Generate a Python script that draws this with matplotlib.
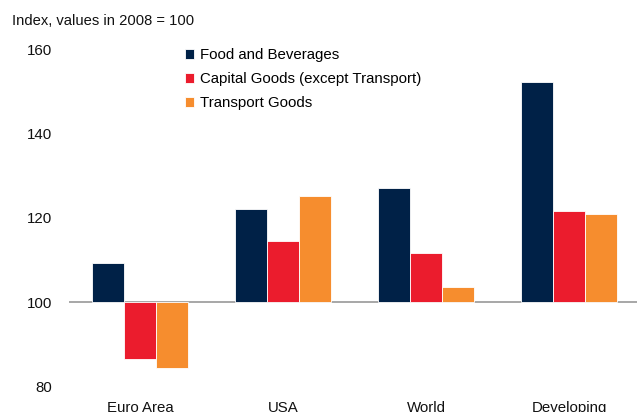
import numpy as np
import matplotlib
matplotlib.use("Agg")
import matplotlib.pyplot as plt

plt.rcParams['font.family'] = ['Liberation Sans', 'DejaVu Sans']

regions = ['Euro Area', 'USA', 'World', 'Developing']
food = [109.3, 122.1, 127.2, 152.2]
capital = [86.5, 114.5, 111.8, 121.7]
transport = [84.5, 125.2, 103.7, 121.0]
series_names = ['Food and Beverages', 'Capital Goods (except Transport)', 'Transport Goods']
colors = ['#002147', '#EB1C2D', '#F68D2E']
base = 100

fig = plt.figure(figsize=(6.37, 4.12), dpi=100)
ax = fig.add_axes([68.5 / 637, 1 - 386.7 / 412, 572 / 637, (386.7 - 49.3) / 412])

x = np.arange(len(regions))
w = 0.224
for i, (vals, c, name) in enumerate(zip([food, capital, transport], colors, series_names)):
    v = np.array(vals)
    ax.bar(x + (i - 1) * w, v - base, w, bottom=base, color=c, label=name,
           edgecolor='white', linewidth=0.6)

ax.axhline(base, color='#8f8f8f', lw=1.1, zorder=0.5)
ax.set_xlim(-0.5, 3.5)
ax.set_ylim(80, 160)
ax.set_yticks([80, 100, 120, 140, 160])
ax.set_xticks(x)
ax.set_xticklabels(regions)
ax.tick_params(axis='both', length=0, labelsize=10.8, colors='#111111')
ax.tick_params(axis='y', pad=12)
ax.tick_params(axis='x', pad=10)
for s in ax.spines.values():
    s.set_visible(False)

fig.text(12 / 637, 1 - 21 / 412, 'Index, values in 2008 = 100', fontsize=10.6,
         va='center', ha='left', color='#111111')

fig.legend(loc='upper left', bbox_to_anchor=(185 / 637, 1 - 48.5 / 412),
           bbox_transform=fig.transFigure, frameon=False, fontsize=10.8,
           handlelength=0.62, handleheight=0.62, handletextpad=0.4,
           labelspacing=0.65, borderpad=0, borderaxespad=0)

fig.savefig('out.png', dpi=100)
